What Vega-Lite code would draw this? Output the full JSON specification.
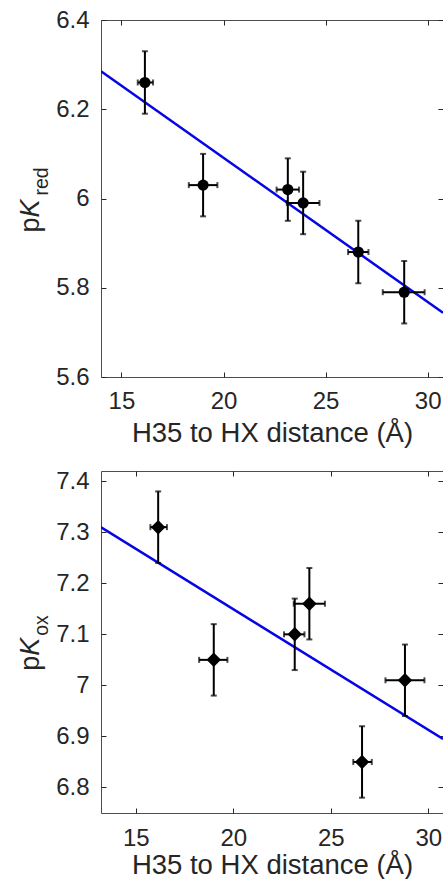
{
  "$schema": "https://vega.github.io/schema/vega-lite/v6.json",
  "padding": {"left": 15, "top": 7, "right": 0, "bottom": 0},
  "columns": 1,
  "spacing": 21,
  "config": {
    "font": "Liberation Sans",
    "view": {"stroke": "#4d4d4d", "strokeWidth": 1},
    "axis": {
      "grid": false, "domain": false,
      "labelFont": "Liberation Sans", "labelFontSize": 24, "labelColor": "#262626",
      "labelFlush": false, "labelOverlap": false,
      "titleFont": "Liberation Sans", "titleFontSize": 27.5, "titleColor": "#262626", "titleFontWeight": "normal",
      "tickColor": "#262626", "tickSize": -5, "tickWidth": 1, "format": "~g"
    }
  },
  "datasets": {
    "red": [
      {"d": 16.15, "dlo": 15.8, "dhi": 16.55, "pk": 6.26, "lo": 6.19, "hi": 6.33},
      {"d": 19.0, "dlo": 18.3, "dhi": 19.7, "pk": 6.03, "lo": 5.96, "hi": 6.10},
      {"d": 23.15, "dlo": 22.6, "dhi": 23.7, "pk": 6.02, "lo": 5.95, "hi": 6.09},
      {"d": 23.9, "dlo": 23.1, "dhi": 24.7, "pk": 5.99, "lo": 5.92, "hi": 6.06},
      {"d": 26.6, "dlo": 26.1, "dhi": 27.1, "pk": 5.88, "lo": 5.81, "hi": 5.95},
      {"d": 28.85, "dlo": 27.8, "dhi": 29.85, "pk": 5.79, "lo": 5.72, "hi": 5.86}
    ],
    "redLine": [
      {"d": 14, "pk": 6.285},
      {"d": 30.75, "pk": 5.744}
    ],
    "ox": [
      {"d": 16.15, "dlo": 15.75, "dhi": 16.6, "pk": 7.31, "lo": 7.24, "hi": 7.38},
      {"d": 19.0, "dlo": 18.25, "dhi": 19.7, "pk": 7.05, "lo": 6.98, "hi": 7.12},
      {"d": 23.15, "dlo": 22.6, "dhi": 23.65, "pk": 7.10, "lo": 7.03, "hi": 7.17},
      {"d": 23.9, "dlo": 23.1, "dhi": 24.7, "pk": 7.16, "lo": 7.09, "hi": 7.23},
      {"d": 26.6, "dlo": 26.15, "dhi": 27.1, "pk": 6.85, "lo": 6.78, "hi": 6.92},
      {"d": 28.8, "dlo": 27.8, "dhi": 29.8, "pk": 7.01, "lo": 6.94, "hi": 7.08}
    ],
    "oxLine": [
      {"d": 13, "pk": 7.315},
      {"d": 30.75, "pk": 6.895}
    ]
  },
  "concat": [
    {
      "width": 342,
      "height": 357,
      "resolve": {"axis": {"x": "independent", "y": "independent"}},
      "layer": [
        {
          "data": {"name": "redLine"},
          "mark": {"type": "line", "color": "#0505e6", "strokeWidth": 2.5, "clip": true},
          "encoding": {
            "x": {"field": "d", "type": "quantitative", "scale": {"domain": [14, 30.75], "nice": false, "zero": false},
                  "axis": {"orient": "bottom", "values": [15, 20, 25, 30], "title": "H35 to HX distance (Å)", "labelPadding": 17, "titlePadding": 6}},
            "y": {"field": "pk", "type": "quantitative", "scale": {"domain": [5.6, 6.4], "nice": false, "zero": false},
                  "axis": {"orient": "left", "values": [5.6, 5.8, 6, 6.2, 6.4], "title": "p", "titleFontSize": 27, "labelPadding": 17,
                           "titleX": -63, "titleY": 212, "titleAngle": 270, "titleAlign": "left", "titleBaseline": "alphabetic"}}
          }
        },
        {
          "data": {"name": "red"},
          "mark": {"type": "errorbar", "ticks": true, "size": 6, "thickness": 2, "color": "#000000"},
          "encoding": {
            "x": {"field": "d", "type": "quantitative", "scale": {"domain": [14, 30.75], "nice": false, "zero": false}, "axis": null},
            "y": {"field": "lo", "type": "quantitative", "scale": {"domain": [5.6, 6.4], "nice": false, "zero": false},
                  "axis": {"orient": "left", "labels": false, "ticks": false, "title": "K", "titleFontSize": 27, "titleFontStyle": "italic",
                           "titleX": -63, "titleY": 197, "titleAngle": 270, "titleAlign": "left", "titleBaseline": "alphabetic"}},
            "y2": {"field": "hi"}
          }
        },
        {
          "data": {"name": "red"},
          "mark": {"type": "errorbar", "ticks": true, "size": 6, "thickness": 2, "color": "#000000"},
          "encoding": {
            "x": {"field": "dlo", "type": "quantitative", "scale": {"domain": [14, 30.75], "nice": false, "zero": false}, "axis": null},
            "x2": {"field": "dhi"},
            "y": {"field": "pk", "type": "quantitative", "scale": {"domain": [5.6, 6.4], "nice": false, "zero": false},
                  "axis": {"orient": "left", "labels": false, "ticks": false, "title": "red", "titleFontSize": 19.5,
                           "titleX": -53.3, "titleY": 175, "titleAngle": 270, "titleAlign": "left", "titleBaseline": "alphabetic"}}
          }
        },
        {
          "data": {"name": "red"},
          "mark": {"type": "point", "shape": "circle", "filled": true, "size": 125, "color": "#000000", "opacity": 1},
          "encoding": {
            "x": {"field": "d", "type": "quantitative", "scale": {"domain": [14, 30.75], "nice": false, "zero": false},
                  "axis": {"orient": "top", "values": [15, 20, 25, 30], "labels": false, "title": null}},
            "y": {"field": "pk", "type": "quantitative", "scale": {"domain": [5.6, 6.4], "nice": false, "zero": false},
                  "axis": {"orient": "right", "values": [5.6, 5.8, 6, 6.2, 6.4], "labels": false, "title": null}}
          }
        }
      ]
    },
    {
      "width": 342,
      "height": 342,
      "resolve": {"axis": {"x": "independent", "y": "independent"}},
      "layer": [
        {
          "data": {"name": "oxLine"},
          "mark": {"type": "line", "color": "#0505e6", "strokeWidth": 2.5, "clip": true},
          "encoding": {
            "x": {"field": "d", "type": "quantitative", "scale": {"domain": [13.22, 30.75], "nice": false, "zero": false},
                  "axis": {"orient": "bottom", "values": [15, 20, 25, 30], "title": "H35 to HX distance (Å)", "labelPadding": 18, "titlePadding": 1}},
            "y": {"field": "pk", "type": "quantitative", "scale": {"domain": [6.75, 7.42], "nice": false, "zero": false},
                  "axis": {"orient": "left", "values": [6.8, 6.9, 7, 7.1, 7.2, 7.3, 7.4], "title": "p", "titleFontSize": 27, "labelPadding": 17,
                           "titleX": -63, "titleY": 199.3, "titleAngle": 270, "titleAlign": "left", "titleBaseline": "alphabetic"}}
          }
        },
        {
          "data": {"name": "ox"},
          "mark": {"type": "errorbar", "ticks": true, "size": 6, "thickness": 2, "color": "#000000"},
          "encoding": {
            "x": {"field": "d", "type": "quantitative", "scale": {"domain": [13.22, 30.75], "nice": false, "zero": false}, "axis": null},
            "y": {"field": "lo", "type": "quantitative", "scale": {"domain": [6.75, 7.42], "nice": false, "zero": false},
                  "axis": {"orient": "left", "labels": false, "ticks": false, "title": "K", "titleFontSize": 27, "titleFontStyle": "italic",
                           "titleX": -63, "titleY": 184.3, "titleAngle": 270, "titleAlign": "left", "titleBaseline": "alphabetic"}},
            "y2": {"field": "hi"}
          }
        },
        {
          "data": {"name": "ox"},
          "mark": {"type": "errorbar", "ticks": true, "size": 6, "thickness": 2, "color": "#000000"},
          "encoding": {
            "x": {"field": "dlo", "type": "quantitative", "scale": {"domain": [13.22, 30.75], "nice": false, "zero": false}, "axis": null},
            "x2": {"field": "dhi"},
            "y": {"field": "pk", "type": "quantitative", "scale": {"domain": [6.75, 7.42], "nice": false, "zero": false},
                  "axis": {"orient": "left", "labels": false, "ticks": false, "title": "ox", "titleFontSize": 19.5,
                           "titleX": -53.3, "titleY": 164.3, "titleAngle": 270, "titleAlign": "left", "titleBaseline": "alphabetic"}}
          }
        },
        {
          "data": {"name": "ox"},
          "mark": {"type": "point", "shape": "diamond", "filled": true, "size": 210, "color": "#000000", "opacity": 1},
          "encoding": {
            "x": {"field": "d", "type": "quantitative", "scale": {"domain": [13.22, 30.75], "nice": false, "zero": false},
                  "axis": {"orient": "top", "values": [15, 20, 25, 30], "labels": false, "title": null}},
            "y": {"field": "pk", "type": "quantitative", "scale": {"domain": [6.75, 7.42], "nice": false, "zero": false},
                  "axis": {"orient": "right", "values": [6.8, 6.9, 7, 7.1, 7.2, 7.3, 7.4], "labels": false, "title": null}}
          }
        }
      ]
    }
  ]
}
